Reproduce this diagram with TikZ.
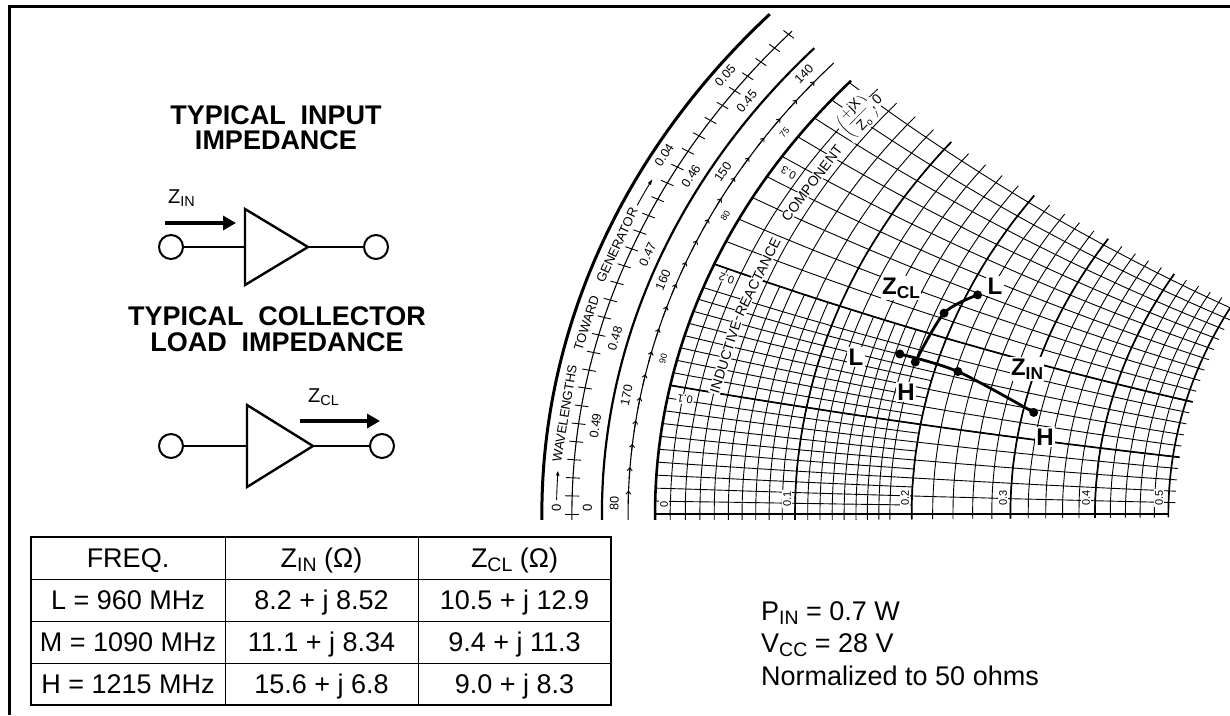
\documentclass[tikz,border=0pt]{standalone}
\usepackage{fontspec}
\setmainfont{Liberation Sans}
\usepackage{graphicx}
\usetikzlibrary{arrows.meta}
\newcommand{\lsub}[1]{\raisebox{-0.16em}{\scalebox{0.72}{#1}}}
\newcommand{\rline}[4][]{\draw[#1] plot[domain=#3:#4, samples=24, smooth, variable=\t] ({((#2)*(#2)+(\t)*(\t)-1)/(((#2)+1)*((#2)+1)+(\t)*(\t))}, {2*(\t)/(((#2)+1)*((#2)+1)+(\t)*(\t))});}
\newcommand{\xline}[4][]{\draw[#1] plot[domain=#3:#4, samples=24, smooth, variable=\t] ({((\t)*(\t)+(#2)*(#2)-1)/(((\t)+1)*((\t)+1)+(#2)*(#2))}, {2*(#2)/(((\t)+1)*((\t)+1)+(#2)*(#2))});}
\newcommand{\zpt}[3]{\coordinate (#1) at ({((#2)*(#2)+(#3)*(#3)-1)/(((#2)+1)*((#2)+1)+(#3)*(#3))}, {2*(#3)/(((#2)+1)*((#2)+1)+(#3)*(#3))});}
\newcommand{\atext}[5]{\node[#5, rotate={atan2(-650*cos(#2),770*sin(#2))}] (#1) at (#2:#3) {#4};}
\newcommand{\rtext}[5]{\node[#5, rotate={atan2(650*sin(#2),770*cos(#2))}] (#1) at (#2:#3) {#4};}
\tikzset{
  frameline/.style={line width=3pt},
  ttl/.style={font=\fontsize{27}{27}\selectfont\bfseries, inner sep=0pt, anchor=base},
  zlab/.style={font=\fontsize{20}{20}\selectfont, inner sep=0pt, anchor=base west},
  term/.style={circle, draw, line width=2pt, minimum size=24pt, inner sep=0pt},
  wire/.style={line width=2pt},
  ampbody/.style={line width=2.4pt, line join=miter},
  zarrow/.style={line width=3.5pt, -{Triangle[length=13pt,width=14pt]}},
  tbl/.style={font=\fontsize{27}{27}\selectfont, inner sep=0pt, anchor=base},
  note/.style={font=\fontsize{27}{27}\selectfont, inner sep=0pt, anchor=base west},
  gridl/.style={line width=0.9pt},
  gridb/.style={line width=1.7pt},
  arct/.style={font=\fontsize{13}{13}\selectfont, inner sep=0.3pt},
  arcn/.style={font=\fontsize{12.5}{12.5}\selectfont, inner sep=0.3pt},
  arcs/.style={font=\fontsize{9}{9}\selectfont, inner sep=0.3pt},
  inl/.style={font=\fontsize{14}{14}\selectfont, inner sep=1pt, fill=white},
  bl/.style={font=\fontsize{11}{11}\selectfont, inner sep=1pt, fill=white},
  dat/.style={line width=2.8pt, line cap=round},
  dlab/.style={font=\fontsize{24}{24}\selectfont\bfseries, inner sep=1.5pt, fill=white}
}
\begin{document}
\begin{tikzpicture}[x=1pt,y=-1pt]
\useasboundingbox (0,0) rectangle (1230,715);
\fill[white] (0,0) rectangle (1230,715);
\draw[frameline] (9.5,715) -- (9.5,6.5) -- (1230,6.5);

% ---------- left panel ----------
\node[ttl] (t1a) at (276,124) {TYPICAL\hspace{0.55em}INPUT};
\node[ttl] (t1b) at (276,149) {IMPEDANCE};
\node[ttl] (t2a) at (277,325) {TYPICAL\hspace{0.55em}COLLECTOR};
\node[ttl] (t2b) at (277,351) {LOAD\hspace{0.55em}IMPEDANCE};

\node[term] (in1) at (171,247) {};
\node[term] (out1) at (376,247) {};
\draw[ampbody] (245,209) -- (245,285) -- (308,247) coordinate (a1o) -- cycle;
\coordinate (a1i) at (245,247);
\draw[wire] (in1) -- (a1i);
\draw[wire] (a1o) -- (out1);
\coordinate (z1s) at (165,223);
\coordinate (z1e) at (236,223);
\draw[zarrow] (z1s) -- (z1e);
\node[zlab] (z1l) at (168,203) {Z\lsub{IN}};

\node[term] (in2) at (171,446) {};
\node[term] (out2) at (382,446) {};
\draw[ampbody] (247,405) -- (247,487) -- (313,446) coordinate (a2o) -- cycle;
\coordinate (a2i) at (247,446);
\draw[wire] (in2) -- (a2i);
\draw[wire] (a2o) -- (out2);
\coordinate (z2s) at (300,421);
\coordinate (z2e) at (380,421);
\draw[zarrow] (z2s) -- (z2e);
\node[zlab] (z2l) at (308,402) {Z\lsub{CL}};

% ---------- table ----------
\draw[line width=1.6pt] (31,537) rectangle (611,705);
\draw[line width=1pt] (225,537) -- (225,705) (418,537) -- (418,705)
  (31,579) -- (611,579) (31,621) -- (611,621) (31,663) -- (611,663);
\node[tbl] (c00) at (128,567.5) {FREQ.};
\node[tbl] (c01) at (321.5,567.5) {Z\lsub{IN} (Ω)};
\node[tbl] (c02) at (514.5,567.5) {Z\lsub{CL} (Ω)};
\node[tbl] (c10) at (128,609.5) {L = 960 MHz};
\node[tbl] (c11) at (321.5,609.5) {8.2 + j 8.52};
\node[tbl] (c12) at (514.5,609.5) {10.5 + j 12.9};
\node[tbl] (c20) at (128,651.5) {M = 1090 MHz};
\node[tbl] (c21) at (321.5,651.5) {11.1 + j 8.34};
\node[tbl] (c22) at (514.5,651.5) {9.4 + j 11.3};
\node[tbl] (c30) at (128,693.5) {H = 1215 MHz};
\node[tbl] (c31) at (321.5,693.5) {15.6 + j 6.8};
\node[tbl] (c32) at (514.5,693.5) {9.0 + j 8.3};

% ---------- notes ----------
\node[note] (n1) at (761,620) {P\lsub{IN} = 0.7 W};
\node[note] (n2) at (761,652) {V\lsub{CC} = 28 V};
\node[note] (n3) at (761,685) {Normalized to 50 ohms};

% ---------- Smith chart ----------
\begin{scope}
\clip (536,0) rectangle (1230,519);
\begin{scope}[shift={(1425,514)}, xscale=770, yscale=-650]
  \foreach \rv in {0.01,0.03,...,0.19} {\rline[gridl]{\rv}{-0.006}{0.2}}
  \foreach \rv in {0.02,0.04,...,0.48} {\rline[gridl]{\rv}{-0.006}{0.39}}
  \foreach \rv in {0.1,0.2,0.3,0.4} {\rline[gridb]{\rv}{-0.006}{0.39}}
  \rline[gridb]{0.5}{-0.006}{0.385}
  \foreach \xv in {0.01,0.03,...,0.19} {\xline[gridl]{\xv}{0}{0.2}}
  \foreach \xv in {0.02,0.04,...,0.38} {\xline[gridl]{\xv}{0}{0.51}}
  \foreach \xv in {0.1,0.2} {\xline[gridb]{\xv}{0}{0.51}}
  \xline[gridb]{0}{0}{0.5}
  % scale rings
  \draw[line width=3pt] (180.6:1.147) arc[start angle=180.6, end angle=137.9, radius=1.147];
  \draw[line width=1.1pt] (180.6:1.108) arc[start angle=180.6, end angle=137.9, radius=1.108];
  \draw[line width=2.2pt] (180.6:1.069) arc[start angle=180.6, end angle=137.9, radius=1.069];
  \draw[line width=1.1pt] (180.6:1.035) arc[start angle=180.6, end angle=137.9, radius=1.035];
  \draw[line width=2.6pt] (180.6:1) arc[start angle=180.6, end angle=138.2, radius=1];
  \foreach \k in {0,...,29} {\draw[line width=0.9pt] ({180-1.44*\k}:1.099) -- ({180-1.44*\k}:1.117);}
  \foreach \a in {178,176,...,140} {\draw[line width=0.9pt, -{Straight Barb[length=3pt,width=5pt]}] ({\a+1}:1.035) -- (\a:1.035);}
  % ring texts
  \draw[line width=0.9pt, -{Latex[length=5pt,width=4pt]}] (178.9:1.128) arc[start angle=178.9, end angle=176.6, radius=1.128];
  \atext{wl1}{172.1}{1.128}{WAVELENGTHS}{arct}
  \atext{wl2}{164.9}{1.128}{TOWARD}{arct}
  \atext{wl3}{158.5}{1.128}{GENERATOR}{arct}
  \draw[line width=0.9pt, -{Latex[length=6pt,width=4pt]}] (155.1:1.128) arc[start angle=155.1, end angle=152.8, radius=1.128];
  \atext{g04}{150.8}{1.132}{0.04}{arcn}
  \atext{g05}{143.4}{1.132}{0.05}{arcn}
  \atext{g0}{179.5}{1.128}{0}{arct}
  \atext{l0}{179.5}{1.088}{0}{arct}
  \atext{l49}{172.8}{1.086}{0.49}{arcn}
  \atext{l48}{165.6}{1.086}{0.48}{arcn}
  \atext{l47}{158.4}{1.086}{0.47}{arcn}
  \atext{l46}{151.4}{1.086}{0.46}{arcn}
  \atext{l45}{144.2}{1.086}{0.45}{arcn}
  \atext{a180}{179.1}{1.053}{80}{arcn}
  \atext{a170}{170}{1.053}{170}{arcn}
  \atext{a160}{160}{1.053}{160}{arcn}
  \atext{a150}{150}{1.053}{150}{arcn}
  \atext{a140}{140}{1.053}{140}{arcn}
  \atext{t90}{166.4}{1.018}{90}{arcs}
  \atext{t80}{153.2}{1.018}{80}{arcs}
  \atext{t75}{144.8}{1.018}{75}{arcs}
  \atext{ir1}{165.1}{0.94}{INDUCTIVE}{inl}
  \atext{ir2}{157.2}{0.94}{REACTANCE}{inl}
  \atext{ir3}{147.4}{0.945}{COMPONENT}{inl}
  \atext{ir4}{140.3}{0.958}{$\displaystyle\left(\frac{+\mathrm{jX}}{\mathrm{Z_o}}\right)$}{inl}
  \atext{ir5}{138.4}{0.955}{,\,0}{inl}
  \rtext{x01}{169.6}{0.977}{0.1}{bl}
  \rtext{x02}{158.2}{0.977}{0.2}{bl}
  \rtext{x03}{147.6}{0.979}{0.3}{bl}
  % data points
  \zpt{zinL}{0.164}{0.1704}
  \zpt{zinM}{0.222}{0.1668}
  \zpt{zinH}{0.312}{0.136}
  \zpt{zclL}{0.21}{0.258}
  \zpt{zclM}{0.188}{0.226}
  \zpt{zclH}{0.18}{0.166}
\end{scope}
\node[bl, rotate=90] (r00) at (664,504) {0};
\node[bl, rotate=90] (r01) at (787,499) {0.1};
\node[bl, rotate=90] (r02) at (905,498) {0.2};
\node[bl, rotate=90] (r03) at (1003,498) {0.3};
\node[bl, rotate=90] (r04) at (1086,498) {0.4};
\node[bl, rotate=90] (r05) at (1159,498) {0.5};
\end{scope}

\node[dlab] (lzinL) at (856,357) {L};
\node[dlab] (lzclH) at (906,392) {H};
\node[dlab] (lzcl) at (901,288) {Z\lsub{CL}};
\node[dlab] (lzclL) at (995,286) {L};
\node[dlab] (lzin) at (1027,369) {Z\lsub{IN}};
\node[dlab] (lzinH) at (1045,437) {H};
\draw[dat] plot[smooth] coordinates {(zinL) (zinM) (zinH)};
\draw[dat] plot[smooth] coordinates {(zclH) (zclM) (zclL)};
\foreach \p in {zinL,zinM,zinH,zclL,zclM,zclH} {\fill (\p) circle[radius=4.5pt];}
\end{tikzpicture}
\end{document}
